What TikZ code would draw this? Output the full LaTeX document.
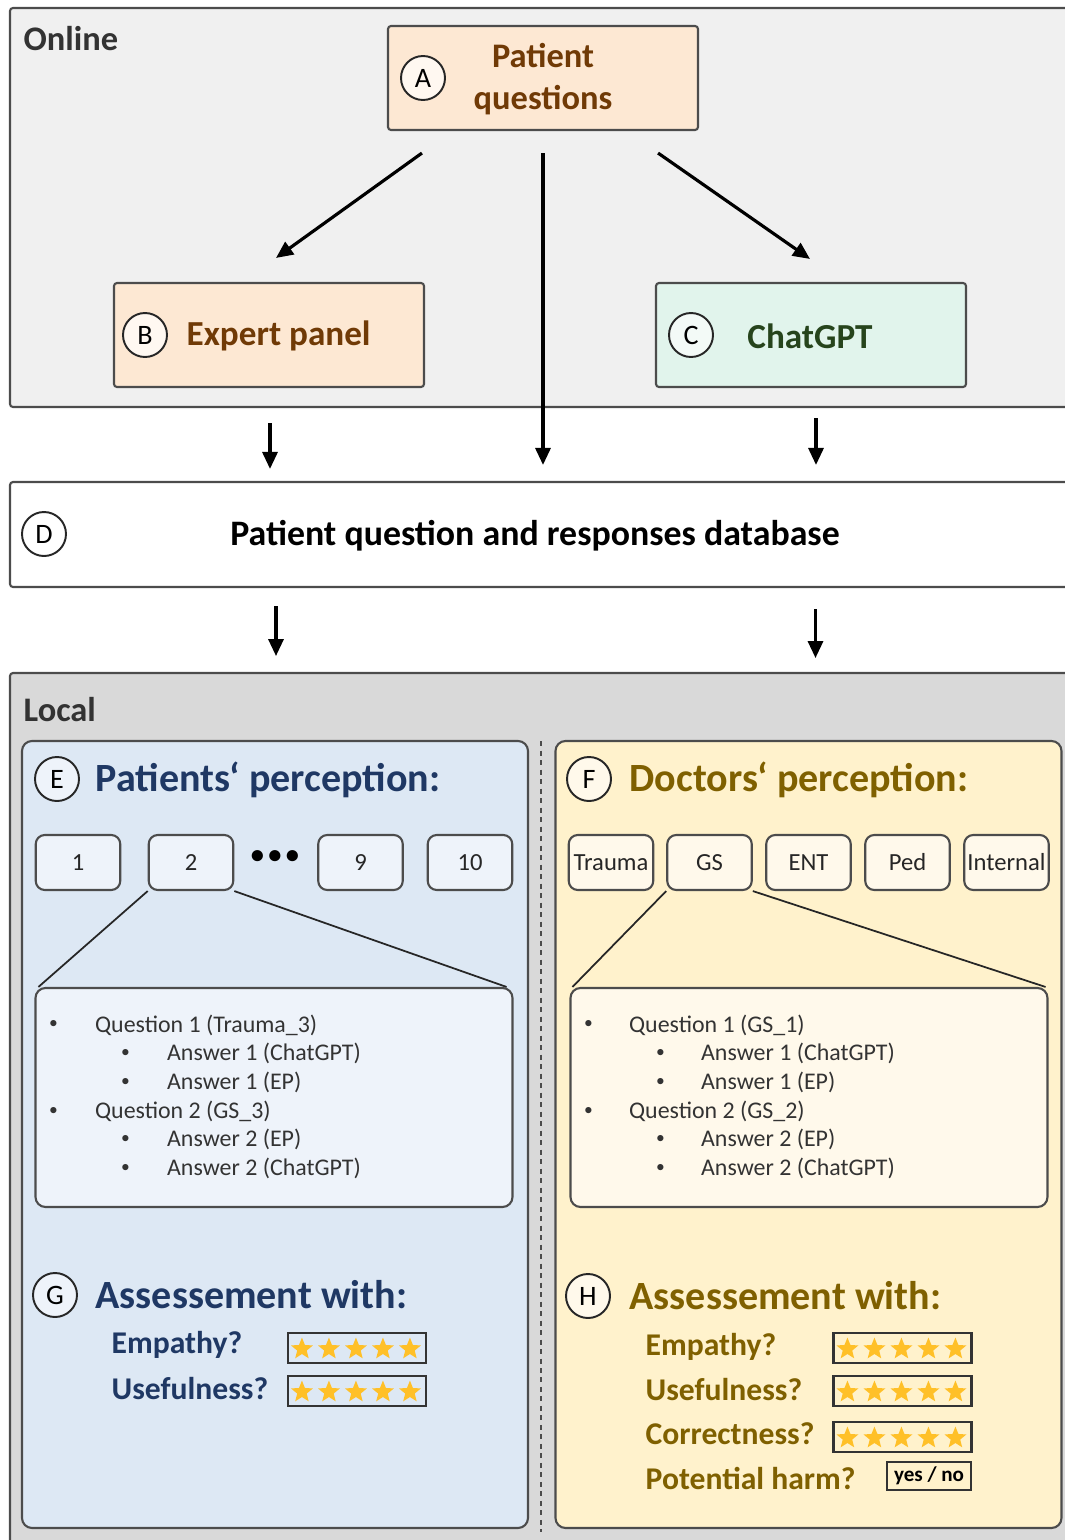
\documentclass[tikz,border=0pt]{standalone}
\usepackage{fontspec}
\setmainfont{Carlito}
\usetikzlibrary{
    arrows.meta,
    positioning,
    shapes.geometric,
    calc
}

\begin{document}
\begin{tikzpicture}[x=0.1mm, y=-0.1mm,
    frame/.style={draw=black!70, line width=0.6pt},
    tag/.style={circle, draw=black!85, line width=0.55pt, minimum size=4.4mm, inner sep=0pt, font=\fontsize{8}{9}\selectfont},
    stagebox/.style={frame, rounded corners=0.3mm, minimum width=31mm, minimum height=10.4mm, inner sep=0pt},
    panel/.style={frame, rounded corners=1mm, minimum width=50.6mm, minimum height=78.7mm, inner sep=0pt},
    catbox/.style={frame, rounded corners=0.9mm, minimum width=8.45mm, minimum height=5.5mm, inner sep=0pt, font=\fontsize{7}{8}\selectfont, text=black!85},
    listbox/.style={frame, rounded corners=1mm, minimum width=47.7mm, minimum height=21.9mm, inner sep=0pt},
    item/.style={anchor=west, inner sep=0pt, font=\fontsize{6.8}{8}\selectfont, text=black!80},
    dot/.style={inner sep=0pt, font=\fontsize{5}{6}\selectfont, text=black!80},
    head/.style={anchor=west, inner sep=0pt, font=\fontsize{11.4}{13}\selectfont\bfseries},
    ask/.style={anchor=west, inner sep=0pt, font=\fontsize{9}{11}\selectfont\bfseries},
    title/.style={anchor=west, inner sep=0pt, font=\fontsize{9.8}{11}\selectfont\bfseries, text=black!80},
    ratebox/.style={draw=black!80, line width=0.6pt, minimum width=13.8mm, minimum height=3mm, inner sep=0pt},
    goldstar/.style={star, star points=5, star point ratio=2.3, fill=stargold, minimum size=2.3mm, inner sep=0pt},
    arr/.style={-{Triangle[length=1.7mm, width=1.5mm]}, line width=0.9pt}
]
% colours
\definecolor{onlinebg}{RGB}{240,240,240}
\definecolor{localbg}{RGB}{217,217,217}
\definecolor{peach}{RGB}{253,232,211}
\definecolor{peachL}{RGB}{255,248,241}
\definecolor{mint}{RGB}{225,244,236}
\definecolor{mintL}{RGB}{243,250,247}
\definecolor{brownT}{RGB}{112,58,6}
\definecolor{greenT}{RGB}{38,68,28}
\definecolor{pblue}{RGB}{221,232,244}
\definecolor{pblueL}{RGB}{238,243,250}
\definecolor{pyel}{RGB}{255,242,204}
\definecolor{pyelL}{RGB}{255,249,235}
\definecolor{navy}{RGB}{31,56,100}
\definecolor{olive}{RGB}{127,96,0}
\definecolor{stargold}{RGB}{255,192,40}

\useasboundingbox (0,0) rectangle (1065,1540);
\clip (0,0) rectangle (1065,1540);

% online part
\draw[frame, fill=onlinebg, rounded corners=0.3mm] (10,8) rectangle (1090,407);
\node[title] (online) at (23,39) {Online};

\node[stagebox, fill=peach] (qa) at (543,78) {};
\node[tag, fill=peachL] (ta) at (423,78) {A};
\node[align=center, font=\fontsize{9.8}{12}\selectfont\bfseries, text=brownT] (qt) at (543,79) {Patient\\questions};

\node[stagebox, fill=peach] (ep) at (269,335) {};
\node[tag, fill=peachL] (tb) at (145,335) {B};
\node[anchor=west, inner sep=0pt, font=\fontsize{10}{11}\selectfont\bfseries, text=brownT] (et) at (186,336) {Expert panel};

\node[stagebox, fill=mint] (gpt) at (811,335) {};
\node[tag, fill=mintL] (tc) at (691,335) {C};
\node[font=\fontsize{10}{11}\selectfont\bfseries, text=greenT] (gt) at (810,336) {ChatGPT};

\coordinate (a2b) at ($(qa.south west)+(35,22)$);
\coordinate (a2c) at ($(qa.south east)+(-41,22)$);
\draw[arr] (a2b) -- ($(ep.north)+(7,-24)$);
\draw[arr] (a2c) -- ($(gpt.north)+(-1,-23)$);

% database
\node[frame, fill=white, rounded corners=0.3mm, minimum width=108mm, minimum height=10.5mm, inner sep=0pt] (db) at (550,534.5) {};
\node[tag] (td) at (44,534) {D};
\node[font=\fontsize{10.2}{12}\selectfont\bfseries] (dt) at (535,536) {Patient question and responses database};

\draw[arr] ($(qa.south)+(0,22)$) -- ($(qa.south |- db.north)+(0,-16)$);
\draw[arr] ($(ep.south)+(1,35)$) -- ($(ep.south |- db.north)+(1,-12)$);
\draw[arr] ($(gpt.south)+(5,30)$) -- ($(gpt.south |- db.north)+(5,-16)$);

% local part
\draw[frame, fill=localbg, rounded corners=0.3mm] (10,673) rectangle (1090,1570);
\node[title] (local) at (23,710) {Local};

\node[panel, fill=pblue] (pp) at (275,1134.5) {};
\node[panel, fill=pyel] (dp) at (808.5,1134.5) {};
\draw[black!70, line width=0.45pt, dash pattern=on 0.5mm off 0.45mm] (541,741) -- (541,1532);

\draw[arr] ($(db.south -| pp.north)+(1,18)$) -- ($(db.south -| pp.north)+(1,68)$);
\draw[arr] ($(db.south -| dp.north)+(7,21)$) -- ($(db.south -| dp.north)+(7,70)$);

% patients
\node[tag, fill=pblueL] (te) at (57,779) {E};
\node[head, text=navy] (ph) at (95,780) {Patients‘ perception:};

\foreach \t/\x in {1/78, 2/191, 9/360.5, 10/470}
    \node[catbox, fill=pblueL] (pc\t) at (\x,862.5) {\t};
\node[font=\fontsize{7.5}{8}\selectfont\bfseries, inner sep=0pt] (pdots) at (275,857) {\textbullet\,\textbullet\,\textbullet};

\node[listbox, fill=pblueL] (pl) at (274,1097.5) {};
\draw[black!85, line width=0.5pt] (pc2.south west) -- ($(pl.north west)+(4,0)$);
\draw[black!85, line width=0.5pt] (pc2.south east) -- ($(pl.north east)+(-7,0)$);

\foreach \lvl/\txt [count=\i] in {0/{Question 1 (Trauma\_3)}, 1/{Answer 1 (ChatGPT)}, 1/{Answer 1 (EP)},
                                  0/{Question 2 (GS\_3)}, 1/{Answer 2 (EP)}, 1/{Answer 2 (ChatGPT)}} {
    \node[dot] (plb\i) at ($(pl.north west)+({19+72*\lvl},{9.3+28.7*\i})$) {\textbullet};
    \node[item] (plt\i) at ($(pl.north west)+({60+72*\lvl},{9.3+28.7*\i})$) {\txt};
}

\node[tag, fill=pblueL] (tg) at (55,1295) {G};
\node[head, text=navy] (pa) at (95,1295) {Assessement with:};
\node[ask, text=navy] (pqe) at (111,1345) {Empathy?};
\node[ask, text=navy] (pqu) at (111,1389) {Usefulness?};

% doctors
\node[tag, fill=pyelL] (tf) at (589,779) {F};
\node[head, text=olive] (dh) at (629,780) {Doctors‘ perception:};

\foreach \t/\x [count=\i] in {Trauma/611, GS/709.5, ENT/808.5, Ped/907.5, Internal/1006.5}
    \node[catbox, fill=pyelL] (dc\i) at (\x,862.5) {\t};

\node[listbox, fill=pyelL] (dl) at (809,1097.5) {};
\draw[black!85, line width=0.5pt] (dc2.south west) -- ($(dl.north west)+(3,0)$);
\draw[black!85, line width=0.5pt] (dc2.south east) -- ($(dl.north east)+(-3,0)$);

\foreach \lvl/\txt [count=\i] in {0/{Question 1 (GS\_1)}, 1/{Answer 1 (ChatGPT)}, 1/{Answer 1 (EP)},
                                  0/{Question 2 (GS\_2)}, 1/{Answer 2 (EP)}, 1/{Answer 2 (ChatGPT)}} {
    \node[dot] (dlb\i) at ($(dl.north west)+({19+72*\lvl},{9.3+28.7*\i})$) {\textbullet};
    \node[item] (dlt\i) at ($(dl.north west)+({59+72*\lvl},{9.3+28.7*\i})$) {\txt};
}

\node[tag, fill=pyelL] (th) at (588,1296) {H};
\node[head, text=olive] (da) at (629,1296) {Assessement with:};
\node[ask, text=olive] (dqe) at (645,1347) {Empathy?};
\node[ask, text=olive] (dqu) at (645,1390) {Usefulness?};
\node[ask, text=olive] (dqc) at (645,1434) {Correctness?};
\node[ask, text=olive] (dqh) at (645,1478) {Potential harm?};

% rating boxes
\foreach \n/\x/\y in {pre/357/1348, pru/357/1391, dre/902.5/1348, dru/902.5/1391, drc/902.5/1437} {
    \node[ratebox] (\n) at (\x,\y) {};
    \foreach \k in {0,...,4}
        \node[goldstar] (\n-\k) at ($(\n.west)+({15+27*\k},1)$) {};
}
\node[ratebox, minimum width=8.4mm, minimum height=2.8mm, font=\fontsize{6}{7}\selectfont\bfseries] (drh) at (929,1476) {yes / no};
\end{tikzpicture}
\end{document}
